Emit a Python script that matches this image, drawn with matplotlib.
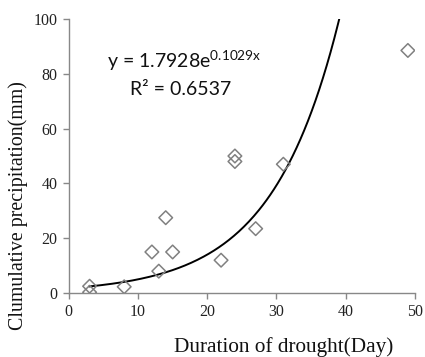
import numpy as np
import matplotlib.pyplot as plt

plt.rcParams['mathtext.fontset'] = 'custom'
plt.rcParams['mathtext.rm'] = 'Lato'

# drought duration (days) vs cumulative precipitation (mm)
duration = [3, 3, 8, 12, 13, 14, 15, 22, 24, 24, 27, 31, 49]
precip = [2.5, 0.3, 2.3, 15, 8, 27.5, 15, 12, 50, 48, 23.5, 47, 88.5]

# exponential trendline coefficients
a_coef = 1.7928
b_coef = 0.1029

fig = plt.figure(figsize=(4.25, 3.57), dpi=100)
ax = fig.add_axes([0.162, 0.179, 0.814, 0.768])

ax.scatter(duration, precip, marker='D', s=48, facecolors='none',
           edgecolors='#808080', linewidths=1.1, zorder=3)

x_fit = np.linspace(min(duration), np.log(100 / a_coef) / b_coef, 200)
ax.plot(x_fit, a_coef * np.exp(b_coef * x_fit), color='black', lw=1.4)

ax.set_xlim(0, 50)
ax.set_ylim(0, 100)
ax.set_xticks([0, 10, 20, 30, 40, 50])
ax.set_yticks([0, 20, 40, 60, 80, 100])

for s in ['top', 'right']:
    ax.spines[s].set_visible(False)
for s in ['left', 'bottom']:
    ax.spines[s].set_color('#888888')
    ax.spines[s].set_linewidth(1.0)
ax.tick_params(direction='out', length=4, color='#888888', width=1.0,
               labelsize=11.5, labelcolor='#222222', pad=4)
for lab in ax.get_xticklabels() + ax.get_yticklabels():
    lab.set_family('Liberation Serif')

fig.text(0.925, 0.028, 'Duration of drought(Day)', ha='right', va='center',
         family='Liberation Serif', fontsize=15.3, color='#111111')
fig.text(0.042, 0.425, 'Clumulative precipitation(mm)', rotation=90,
         ha='center', va='center', family='Liberation Serif', fontsize=14.3,
         color='#111111')

fig.text(0.252, 0.810, r'y = 1.7928e$^{\mathregular{0.1029x}}$', va='baseline',
         family='Lato', fontsize=14, color='#111111')
fig.text(0.306, 0.734, 'R² = 0.6537', va='baseline',
         family='Lato', fontsize=14, color='#111111')

fig.savefig('out.png', dpi=100)
